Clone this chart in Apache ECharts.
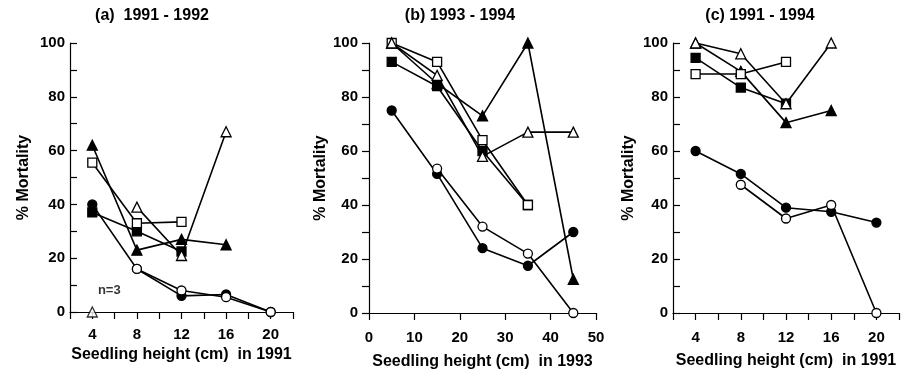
<!DOCTYPE html>
<html>
<head>
<meta charset="utf-8">
<script src="https://cdn.jsdelivr.net/npm/echarts@6/dist/echarts.min.js"></script>
<style>
  html, body { margin: 0; padding: 0; background: #fff; }
  #chart { width: 904px; height: 373px; }
</style>
</head>
<body>
<div id="chart"></div>
<script>
// x positions (cm)
const xA = [4, 8, 12, 16, 20]
const xB = [5, 15, 25, 35, 45]
const xC = [4, 8, 12, 16, 20]

// tick labels
const yTickLabels = [0, 20, 40, 60, 80, 100]
const xTickLabelsAC = [4, 8, 12, 16, 20]
const xTickLabelsB = [0, 10, 20, 30, 40, 50]

// (a) 1991 - 1992, % mortality
const aFilledCircle = [40, 16, 6, 6.5, 0]
const aOpenCircle = [null, 16, 8, 5.5, 0]
const aFilledSquare = [37, 30, 22.5, null, null]
const aOpenSquare = [55.5, 33, 33.5, null, null]
const aFilledTriangle = [62, 23, 27, 25, null]
const aOpenTriangle = [null, 39, 21, 67, null]
const aSmallSample = [[4, 0]] // open triangle, n=3

// (b) 1993 - 1994
const bFilledCircle = [75, 51.5, 24, 17.5, 30]
const bOpenCircle = [null, 53.5, 32, 22, 0]
const bFilledSquare = [93, 84, 60, 40, null]
const bOpenSquare = [100, 93, 64, 40, null]
const bFilledTriangle = [100, 85, 73, 100, 12.5]
const bOpenTriangle = [100, 88, 58, 67, 67]

// (c) 1991 - 1994
const cFilledCircle = [60, 51.5, 39, 37.5, 33.5]
const cOpenCircle = [null, 47.5, 35, 40, 0]
const cFilledSquare = [94.5, 83.5, 77.5, null, null]
const cOpenSquare = [88.5, 88.5, 93, null, null]
const cFilledTriangle = [100, 89.5, 70.5, 75, null]
const cOpenTriangle = [100, 96, 77.5, 100, null]

const FONT = 'Liberation Sans, Arial, Helvetica, sans-serif'

function pairs(xs, ys) {
  const out = []
  xs.forEach((x, i) => {
    if (ys[i] !== null) out.push([x, ys[i]])
  })
  return out
}

function line(idx, xs, ys, shape, filled) {
  return {
    type: 'line',
    xAxisIndex: idx,
    yAxisIndex: idx,
    data: pairs(xs, ys),
    symbol: shape,
    symbolSize: shape === 'triangle' ? 10 : 9,
    showAllSymbol: true,
    lineStyle: { color: '#000', width: 1.6 },
    itemStyle: {
      color: filled ? '#000' : '#fff',
      borderColor: '#000',
      borderWidth: 1.3
    },
    emphasis: { disabled: true }
  }
}

const grids = [
  { left: 70, top: 43, width: 223, height: 269, outerBoundsMode: 'none' },
  { left: 369, top: 43, width: 227, height: 270, outerBoundsMode: 'none' },
  { left: 673, top: 43, width: 226, height: 270, outerBoundsMode: 'none' }
]

function yAxis(idx, tickInside, gap, labelMargin) {
  return {
    type: 'value',
    gridIndex: idx,
    min: 0,
    max: 100,
    interval: 10,
    name: '% Mortality',
    nameLocation: 'middle',
    nameGap: gap,
    nameRotate: 90,
    nameTextStyle: { color: '#000', fontSize: 16, fontWeight: 'bold', fontFamily: FONT },
    axisLine: { show: true, lineStyle: { color: '#000', width: 1.2 } },
    axisTick: { show: true, inside: tickInside, length: 7, lineStyle: { color: '#000', width: 1.2 } },
    axisLabel: {
      color: '#000',
      fontSize: 15,
      fontWeight: 'bold',
      fontFamily: FONT,
      margin: labelMargin,
      formatter: v => (yTickLabels.includes(v) ? String(v) : '')
    },
    splitLine: { show: false }
  }
}

function xAxis(idx, min, max, interval, labels, name, gap, labelMargin) {
  return {
    type: 'value',
    gridIndex: idx,
    min: min,
    max: max,
    interval: interval,
    name: name,
    nameLocation: 'middle',
    nameGap: gap,
    nameTextStyle: { color: '#000', fontSize: 16, fontWeight: 'bold', fontFamily: FONT },
    axisLine: { show: true, onZero: false, lineStyle: { color: '#000', width: 1.2 } },
    axisTick: { show: true, inside: false, length: 7, lineStyle: { color: '#000', width: 1.2 } },
    axisLabel: {
      color: '#000',
      fontSize: 15,
      fontWeight: 'bold',
      fontFamily: FONT,
      margin: labelMargin,
      showMinLabel: true,
      showMaxLabel: true,
      formatter: v => (labels.includes(v) ? String(v) : '')
    },
    splitLine: { show: false }
  }
}

const titleStyle = { color: '#000', fontSize: 16, fontWeight: 'bold', fontFamily: FONT }

const option = {
  backgroundColor: '#fff',
  animation: false,
  title: [
    { text: '(a)  1991 - 1992', left: 147, top: 3, textAlign: 'center', textStyle: titleStyle },
    { text: '(b) 1993 - 1994', left: 455, top: 3, textAlign: 'center', textStyle: titleStyle },
    { text: '(c) 1991 - 1994', left: 755, top: 3, textAlign: 'center', textStyle: titleStyle }
  ],
  grid: grids,
  xAxis: [
    xAxis(0, 2, 22, 2, xTickLabelsAC, 'Seedling height (cm)  in 1991', 25, 15),
    xAxis(1, 0, 50, 10, xTickLabelsB, 'Seedling height (cm)  in 1993', 41, 17),
    xAxis(2, 2, 22, 2, xTickLabelsAC, 'Seedling height (cm)  in 1991', 40, 17)
  ],
  yAxis: [
    yAxis(0, true, 38, 5),
    yAxis(1, false, 35, 11),
    yAxis(2, true, 36, 5)
  ],
  series: [
    line(0, xA, aFilledSquare, 'rect', true),
    line(0, xA, aOpenSquare, 'rect', false),
    line(0, xA, aFilledTriangle, 'triangle', true),
    line(0, xA, aOpenTriangle, 'triangle', false),
    line(0, xA, aFilledCircle, 'circle', true),
    line(0, xA, aOpenCircle, 'circle', false),
    {
      type: 'scatter',
      xAxisIndex: 0,
      yAxisIndex: 0,
      data: aSmallSample,
      symbol: 'triangle',
      symbolSize: 10,
      itemStyle: { color: '#fff', borderColor: '#000', borderWidth: 1.3 },
      label: {
        show: true,
        formatter: 'n=3',
        position: 'top',
        offset: [17, -4],
        color: '#000',
        fontSize: 13,
        fontWeight: 'bold',
        fontFamily: FONT
      },
      emphasis: { disabled: true }
    },

    line(1, xB, bFilledCircle, 'circle', true),
    line(1, xB, bOpenCircle, 'circle', false),
    line(1, xB, bFilledTriangle, 'triangle', true),
    line(1, xB, bFilledSquare, 'rect', true),
    line(1, xB, bOpenSquare, 'rect', false),
    line(1, xB, bOpenTriangle, 'triangle', false),

    line(2, xC, cFilledCircle, 'circle', true),
    line(2, xC, cOpenCircle, 'circle', false),
    line(2, xC, cFilledTriangle, 'triangle', true),
    line(2, xC, cFilledSquare, 'rect', true),
    line(2, xC, cOpenSquare, 'rect', false),
    line(2, xC, cOpenTriangle, 'triangle', false)
  ]
}

const myChart = echarts.init(document.getElementById('chart'))
myChart.setOption(option)
</script>
</body>
</html>
